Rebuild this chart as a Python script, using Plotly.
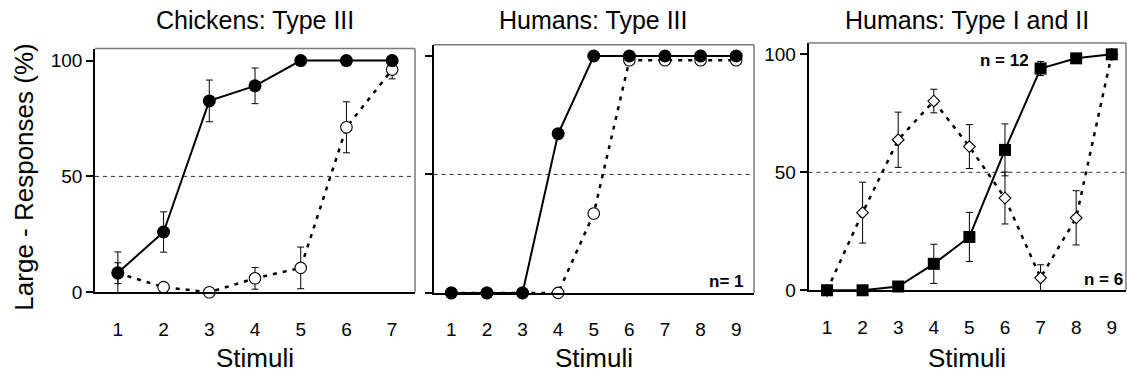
import plotly.graph_objects as go

W, H = 1127, 377

# ---------------- data ----------------
stimuli_7 = [1, 2, 3, 4, 5, 6, 7]
stimuli_9 = [1, 2, 3, 4, 5, 6, 7, 8, 9]

chick_filled = [8.4, 26, 82.6, 89.1, 100, 100, 100]
chick_filled_err = [9, 8.7, 9, 7.7, 0, 0, 0]
chick_open = [8.2, 2.2, 0, 6, 10.5, 71.2, 96.1]
chick_open_err = [4.5, 1.4, 0, 4.7, 9, 11, 4]

hum3_filled = [0, 0, 0, 67.2, 100, 100, 100, 100, 100]
hum3_open = [0, 0, 0, 0, 33.5, 98.2, 98.2, 98.2, 98.2]

hum12_square = [0, 0, 1.6, 11.2, 22.6, 59.5, 94, 98.3, 100]
hum12_square_err = [0, 0, 0, 8.3, 10.4, 11, 3, 0, 0]
hum12_diamond = [0, 32.9, 63.8, 80.2, 60.9, 39.1, 5.3, 30.7, 100]
hum12_diamond_err = [0, 12.9, 11.7, 5, 9.3, 11, 5.5, 11.5, 0]

threshold = 50
titles = ["Chickens: Type III", "Humans: Type III", "Humans: Type I and II"]
y_title = "Large - Responses (%)"
x_title = "Stimuli"

FONT = "Liberation Sans, Arial, sans-serif"


def px(x):
    return x / W


def py(y):
    return 1 - y / H


fig = go.Figure()

dotted = "4px,6px"


def add_series(x, y, err, xa, ya, symbol, size, filled, dash):
    fig.add_trace(go.Scatter(
        x=x, y=y, xaxis=xa, yaxis=ya, mode="lines+markers",
        line=dict(color="black", width=2 if dash == "solid" else 2.5, dash=dash),
        marker=dict(symbol=symbol, size=size,
                    color="black" if filled else "white",
                    line=dict(color="black", width=0 if filled else 1.1)),
        error_y=dict(type="data", array=err, visible=True,
                     color="black", thickness=1, width=3.5) if err is not None else None,
        cliponaxis=False, showlegend=False, hoverinfo="skip"))


# panel 1
add_series(stimuli_7, chick_open, chick_open_err, "x", "y", "circle", 11.5, False, dotted)
add_series(stimuli_7, chick_filled, chick_filled_err, "x", "y", "circle", 13, True, "solid")
# panel 2
add_series(stimuli_9, hum3_open, None, "x2", "y2", "circle", 11.5, False, dotted)
add_series(stimuli_9, hum3_filled, None, "x2", "y2", "circle", 13, True, "solid")
# panel 3
add_series(stimuli_9, hum12_diamond, hum12_diamond_err, "x3", "y3", "diamond", 9, False, dotted)
add_series(stimuli_9, hum12_square, hum12_square_err, "x3", "y3", "square", 12, True, "solid")

# domains from pixel layout
panels = [
    dict(x0=95, x1=415, y0=50, y1=301, xr=[0.5, 7.5], yr=[0, 105.2], labels=True),
    dict(x0=433.5, x1=754, y0=46, y1=301.7, xr=[0.5, 9.5], yr=[0, 104.8], labels=False),
    dict(x0=808.5, x1=1126, y0=44.3, y1=299, xr=[0.48, 9.4], yr=[0, 104.8], labels=True),
]
tickfont = dict(family=FONT, size=19, color="black")
for i, p in enumerate(panels):
    s = "" if i == 0 else str(i + 1)
    xvals = stimuli_7 if i == 0 else stimuli_9
    fig.update_layout(**{
        "xaxis" + s: dict(domain=[px(p["x0"]), px(p["x1"])], range=p["xr"],
                          anchor="y" + s, tickmode="array", tickvals=xvals,
                          ticks="", ticklabelstandoff=19, showgrid=False,
                          zeroline=False, showline=True, linecolor="black",
                          linewidth=1.5, tickfont=tickfont),
        "yaxis" + s: dict(domain=[py(p["y1"]), py(p["y0"])], range=p["yr"],
                          anchor="x" + s, tickmode="array", tickvals=[0, 50, 100],
                          ticks="outside", ticklen=7, tickwidth=1.5, tickcolor="black",
                          showticklabels=p["labels"], showgrid=False, zeroline=False,
                          showline=True, linecolor="black", linewidth=1.5,
                          tickfont=tickfont),
    })
    # gray frame top/right
    fig.add_shape(type="line", xref="x" + s + " domain", yref="y" + s + " domain",
                  x0=0, x1=1, y0=1, y1=1, line=dict(color="#7a7a7a", width=1.5))
    fig.add_shape(type="line", xref="x" + s + " domain", yref="y" + s + " domain",
                  x0=1, x1=1, y0=0, y1=1, line=dict(color="#7a7a7a", width=1.5))
    # 50% reference line
    fig.add_shape(type="line", xref="x" + s + " domain", yref="y" + s,
                  x0=0, x1=1, y0=threshold, y1=threshold,
                  line=dict(color="#333333", width=1, dash="4px,4px"), layer="below")
    cx = (px(p["x0"]) + px(p["x1"])) / 2
    fig.add_annotation(text=titles[i], x=cx, y=py(21), xref="paper", yref="paper",
                       showarrow=False, xanchor="center", yanchor="middle",
                       font=dict(family=FONT, size=25, color="black"))
    fig.add_annotation(text=x_title, x=cx, y=py(369), xref="paper", yref="paper",
                       showarrow=False, xanchor="center", yanchor="middle",
                       font=dict(family=FONT, size=26, color="black"))

fig.add_annotation(text=y_title, x=px(24), y=py(183), xref="paper", yref="paper",
                   textangle=-90, showarrow=False, xanchor="center", yanchor="middle",
                   font=dict(family=FONT, size=26, color="black"))

bold = dict(family=FONT, size=17, color="black")
fig.add_annotation(text="<b>n= 1</b>", x=px(746), y=py(290), xref="paper", yref="paper",
                   showarrow=False, xanchor="right", yanchor="middle", font=bold)
fig.add_annotation(text="<b>n = 12</b>", x=px(1031), y=py(62), xref="paper", yref="paper",
                   showarrow=False, xanchor="right", yanchor="middle", font=bold)
fig.add_annotation(text="<b>n = 6</b>", x=px(1125), y=py(288), xref="paper", yref="paper",
                   showarrow=False, xanchor="right", yanchor="middle", font=bold)

fig.update_layout(width=W, height=H, margin=dict(l=0, r=0, t=0, b=0),
                  paper_bgcolor="white", plot_bgcolor="white",
                  font=dict(family=FONT, color="black"))

fig.write_html("out.html", config={"displayModeBar": False},
               post_script="document.body.style.margin='0';document.body.style.padding='0';")
